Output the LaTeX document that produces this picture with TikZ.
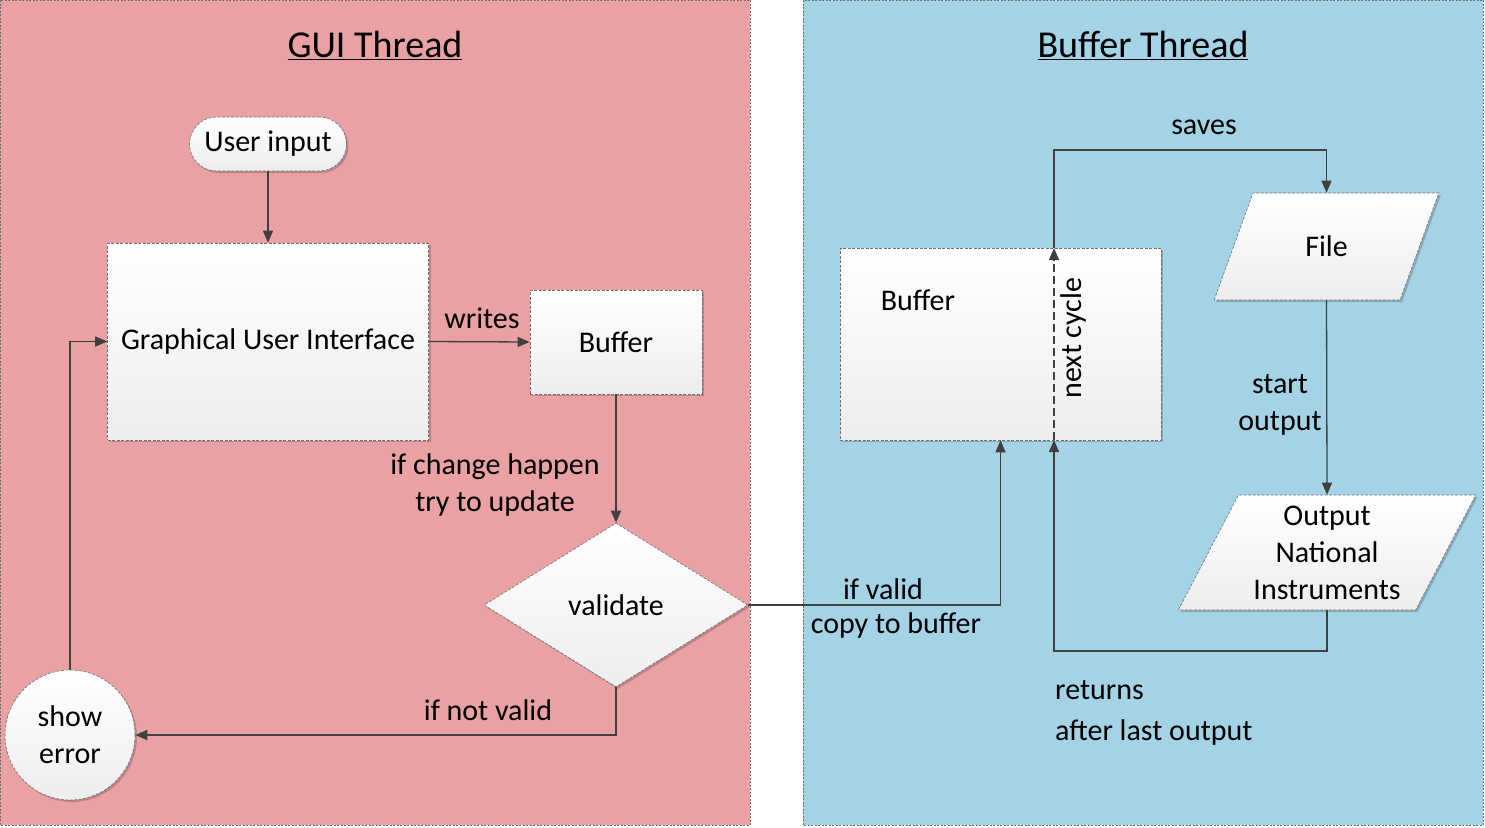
\documentclass[tikz,border=0pt]{standalone}
\usepackage{fontspec}
\setmainfont{Carlito}
\usetikzlibrary{shapes.geometric,arrows.meta,shadows}
\definecolor{pinkbg}{RGB}{233,161,163}
\definecolor{bluebg}{RGB}{164,211,230}
\definecolor{linec}{RGB}{64,64,64}
\definecolor{edgec}{RGB}{110,110,110}
\begin{document}
\begin{tikzpicture}[x=1pt,y=-1pt,
  panel/.style={draw=edgec, line width=0.6pt, dash pattern=on 2pt off 1.5pt},
  shp/.style={draw=edgec, line width=0.6pt, dash pattern=on 3pt off 1.5pt,
    top color=white, bottom color=black!7, inner sep=0pt,
    drop shadow={shadow xshift=2pt,shadow yshift=-2pt,opacity=0.18,fill=black},
    font=\fontsize{30}{37}\selectfont, align=center},
  lbl/.style={font=\fontsize{30}{37}\selectfont, align=center, inner sep=0pt},
  ttl/.style={font=\fontsize{38}{42}\selectfont, inner sep=0pt},
  arr/.style={draw=linec, line width=1.3pt, -{Triangle[length=12pt,width=10pt]}},
  para/.style={shp, trapezium, trapezium left angle=62, trapezium right angle=118,
    trapezium stretches=true}
]
\useasboundingbox (0,0) rectangle (1485,827);
% panels
\fill[pinkbg] (0,0) rectangle (750,825);
\draw[panel] (0,0) rectangle (750,825);
\fill[bluebg] (803,0) rectangle (1483,825);
\draw[panel] (803,0) rectangle (1483,825);
% titles
\node[ttl] (t1) at (375,45) {\underline{GUI Thread}};
\node[ttl] (t2) at (1143,45) {\underline{Buffer Thread}};
% GUI thread nodes
\node[shp, rounded corners=27pt, minimum width=157pt, minimum height=54pt] (ui) at (268,144) {User input};
\node[shp, minimum width=321pt, minimum height=197pt] (gui) at (268,341.5) {Graphical User Interface};
\node[shp, minimum width=172pt, minimum height=104pt] (buf1) at (616,342) {Buffer};
\node[shp, diamond, minimum width=264pt, minimum height=164pt] (val) at (616,605) {validate};
\node[shp, circle, minimum size=130pt] (err) at (70,735) {show\\error};
% Buffer thread nodes
\node[shp, minimum width=321pt, minimum height=192pt] (buf2) at (1000.5,344) {};
\node[lbl] (buf2t) at (918,300) {Buffer};
\node[para, minimum width=225pt, minimum height=107pt] (file) at (1326.5,246.5) {File};
\node[para, minimum width=298pt, minimum height=115pt] (out) at (1327,552.5) {Output\\National\\Instruments};
% coordinates
\coordinate (ncb) at (1054,440);
\coordinate (nct) at (1054,248);
\coordinate (sv) at (1190,150);
\coordinate (rt) at (1190,651);
% connectors
\draw[arr] (ui.south) -- (gui.north);
\draw[arr] (gui.east) -- (buf1.west);
\draw[arr] (buf1.south) -- (val.north);
\draw[arr] (val.south) |- (err.east);
\draw[arr] (err.north) |- (gui.west);
\draw[arr] (val.east) -| (buf2.south);
\draw[arr, dash pattern=on 8pt off 4pt] (ncb) -- (nct);
\draw[arr] (nct) |- (sv) -| (file.north);
\draw[arr] (file.south) -- (out.north);
\draw[arr] (out.south) |- (rt) -| (ncb);
% labels
\node[lbl] (lw) at (482,318) {writes};
\node[lbl] (lc) at (495,484.5) {if change happen\\try to update};
\node[lbl] (lnv) at (488,710) {if not valid};
\node[lbl] (lv) at (883,589) {if valid};
\node[lbl] (lcp) at (896,625) {copy to buffer};
\node[lbl] (ls) at (1204,127) {saves};
\node[lbl] (lso) at (1280,404.5) {start\\output};
\node[lbl, align=left, anchor=west] (lr) at (1055,712.5) {returns\\[4pt]after last output};
\node[lbl, rotate=90] (lnc) at (1073,338) {next cycle};
\end{tikzpicture}
\end{document}
